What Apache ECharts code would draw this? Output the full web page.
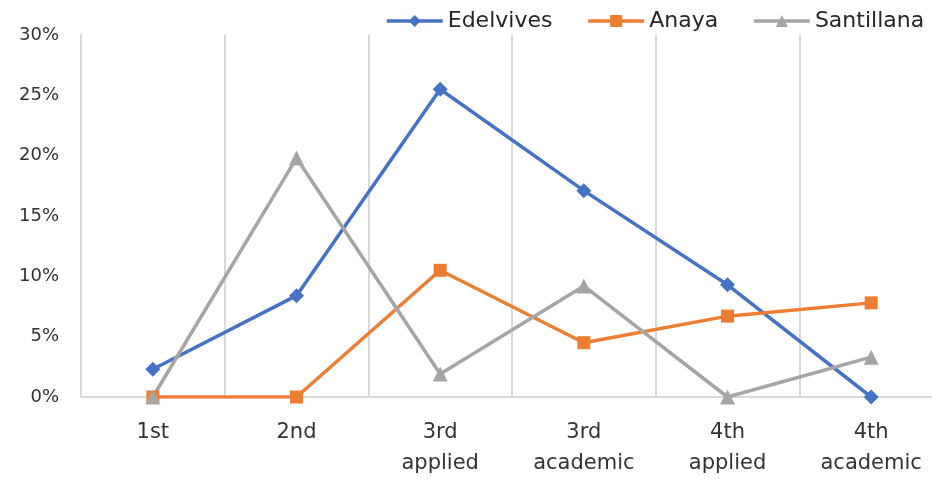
<!DOCTYPE html>
<html>
<head>
<meta charset="utf-8">
<script src="https://cdn.jsdelivr.net/npm/echarts@6/dist/echarts.min.js"></script>
<style>
  html, body { margin: 0; padding: 0; background: #fff; }
  #chart { width: 932px; height: 479px; }
</style>
</head>
<body>
<div id="chart"></div>
<script>
const categories = ['1st', '2nd', '3rd\napplied', '3rd\nacademic', '4th\napplied', '4th\nacademic'];
const edelvives = [2.3, 8.4, 25.5, 17.1, 9.3, 0];
const anaya = [0, 0, 10.5, 4.5, 6.7, 7.8];
const santillana = [0, 19.8, 1.9, 9.2, 0, 3.3];

const chart = echarts.init(document.getElementById('chart'));

const makeSeries = (name, data, color, symbol, size) => ({
  name,
  type: 'line',
  data,
  symbol,
  symbolSize: size,
  showAllSymbol: true,
  itemStyle: { color },
  lineStyle: { color, width: 3.5 },
  animation: false
});

chart.setOption({
  textStyle: { fontFamily: 'DejaVu Sans' },
  legend: {
    left: 380,
    top: 5,
    width: 620,
    itemWidth: 56,
    itemHeight: 15,
    itemGap: 34,
    lineStyle: { width: 3.5 },
    textStyle: { fontSize: 22, color: '#262626', fontFamily: 'DejaVu Sans' },
    data: ['Edelvives', 'Anaya', 'Santillana']
  },
  grid: { left: 81, right: -11, top: 35, bottom: 82, outerBoundsMode: 'none', containLabel: false },
  xAxis: {
    type: 'category',
    data: categories,
    boundaryGap: true,
    axisLine: { lineStyle: { color: '#d9d9d9', width: 2 } },
    axisTick: { show: false },
    splitLine: { show: true, lineStyle: { color: '#d9d9d9', width: 2 } },
    axisLabel: {
      interval: 0,
      margin: 20,
      fontSize: 21,
      lineHeight: 31,
      color: '#333'
    }
  },
  yAxis: {
    type: 'value',
    min: 0,
    max: 30,
    interval: 5,
    axisLine: { show: true, lineStyle: { color: '#d9d9d9', width: 2 } },
    axisTick: { show: false },
    splitLine: { show: false },
    axisLabel: {
      formatter: '{value}%',
      margin: 22,
      fontSize: 18,
      color: '#333'
    }
  },
  series: [
    makeSeries('Edelvives', edelvives, '#4472C4', 'diamond', 15),
    makeSeries('Anaya', anaya, '#ED7D31', 'rect', 13),
    makeSeries('Santillana', santillana, '#A5A5A5', 'triangle', 15)
  ]
});
</script>
</body>
</html>
